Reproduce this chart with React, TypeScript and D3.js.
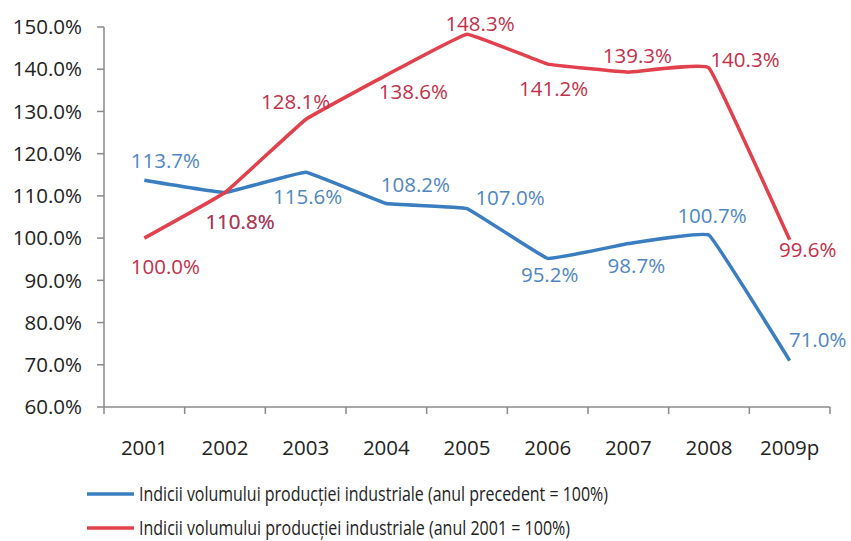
import * as d3 from "d3";

const years = ["2001", "2002", "2003", "2004", "2005", "2006", "2007", "2008", "2009p"];
const prevYearIndex = [113.7, 110.8, 115.6, 108.2, 107.0, 95.2, 98.7, 100.7, 71.0];
const baseYearIndex = [100.0, 110.8, 128.1, 138.6, 148.3, 141.2, 139.3, 140.3, 99.6];
const yTicks = [60, 70, 80, 90, 100, 110, 120, 130, 140, 150];
const legendLabels = [
  "Indicii volumului producției industriale (anul precedent = 100%)",
  "Indicii volumului producției industriale (anul 2001 = 100%)",
];

// label placement (dx, dy from the point), as Excel left them
const blueLabelOffsets = [[21, -19], [15, 29], [2, 25], [29, -19], [43, -11], [2, 16], [8, 22], [3, -19], [28, -21]];
const redLabelOffsets = [[21, 29], [15, 29], [-10, -18], [27, 17], [13, -10], [6, 25], [9, -16], [36, -8], [18, 10]];

const W = 851;
const H = 541;
const font = "'Open Sans', 'Noto Sans', sans-serif";

const BLUE = "#3a7dc1";
const BLUE_TXT = "#4f86c2";
const RED = "#e2404c";
const RED_TXT = "#c3304a";
const AXIS = "#8a8a8a";

export default function App() {
  const x = d3.scaleBand().domain(years).range([104, 830]);
  const y = d3.scaleLinear().domain([60, 150]).range([407, 27]);
  const cx = (d: string) => (x(d) as number) + x.bandwidth() / 2;

  // Excel "smoothed line" is only mildly rounded
  const line = d3
    .line<number>()
    .x((_, i) => cx(years[i]))
    .y((d) => y(d))
    .curve(d3.curveCardinal.tension(0.8));

  const series = [
    { values: prevYearIndex, color: BLUE, txt: BLUE_TXT, offsets: blueLabelOffsets },
    { values: baseYearIndex, color: RED, txt: RED_TXT, offsets: redLabelOffsets },
  ];

  return (
    <svg width={W} height={H} style={{ position: "absolute", left: 0, top: 0, background: "#fff" }} fontFamily={font}>
      {/* y axis */}
      <line x1={104} x2={104} y1={y(150)} y2={y(60)} stroke={AXIS} strokeWidth={1.5} />
      {yTicks.map((t) => (
        <g key={t}>
          <line x1={97} x2={104} y1={y(t)} y2={y(t)} stroke={AXIS} strokeWidth={1.5} />
          <text x={82} y={y(t)} dy="0.35em" textAnchor="end" fontSize={20.5} fill="#222">
            {t.toFixed(1) + "%"}
          </text>
        </g>
      ))}
      {/* x axis */}
      <line x1={104} x2={830} y1={407} y2={407} stroke={AXIS} strokeWidth={1.5} />
      {years.map((yr) => (
        <line key={"t" + yr} x1={x(yr)} x2={x(yr)} y1={407} y2={414} stroke={AXIS} strokeWidth={1.5} />
      ))}
      <line x1={830} x2={830} y1={407} y2={414} stroke={AXIS} strokeWidth={1.5} />
      {years.map((yr) => (
        <text key={"l" + yr} x={cx(yr)} y={448} dy="0.35em" textAnchor="middle" fontSize={20.5} fill="#222">
          {yr}
        </text>
      ))}

      {series.map((s, si) => (
        <path key={"p" + si} d={line(s.values) || ""} fill="none" stroke={s.color} strokeWidth={3.5} strokeLinejoin="round" />
      ))}
      {series.map((s, si) =>
        s.values.map((v, i) => (
          <text
            key={"v" + si + i}
            x={cx(years[i]) + s.offsets[i][0]}
            y={y(v) + s.offsets[i][1]}
            dy="0.35em"
            textAnchor="middle"
            fontSize={20.5}
            fill={s.txt}
          >
            {v.toFixed(1) + "%"}
          </text>
        ))
      )}

      {/* legend */}
      {legendLabels.map((lab, i) => (
        <g key={"lg" + i} transform={`translate(0, ${494 + i * 34})`}>
          <line x1={87} x2={134} y1={0} y2={0} stroke={series[i].color} strokeWidth={3.5} />
          <text x={139} y={0} dy="0.35em" fontSize={20.5} fill="#222" textLength={i === 0 ? 469 : 431} lengthAdjust="spacingAndGlyphs">
            {lab}
          </text>
        </g>
      ))}
    </svg>
  );
}
